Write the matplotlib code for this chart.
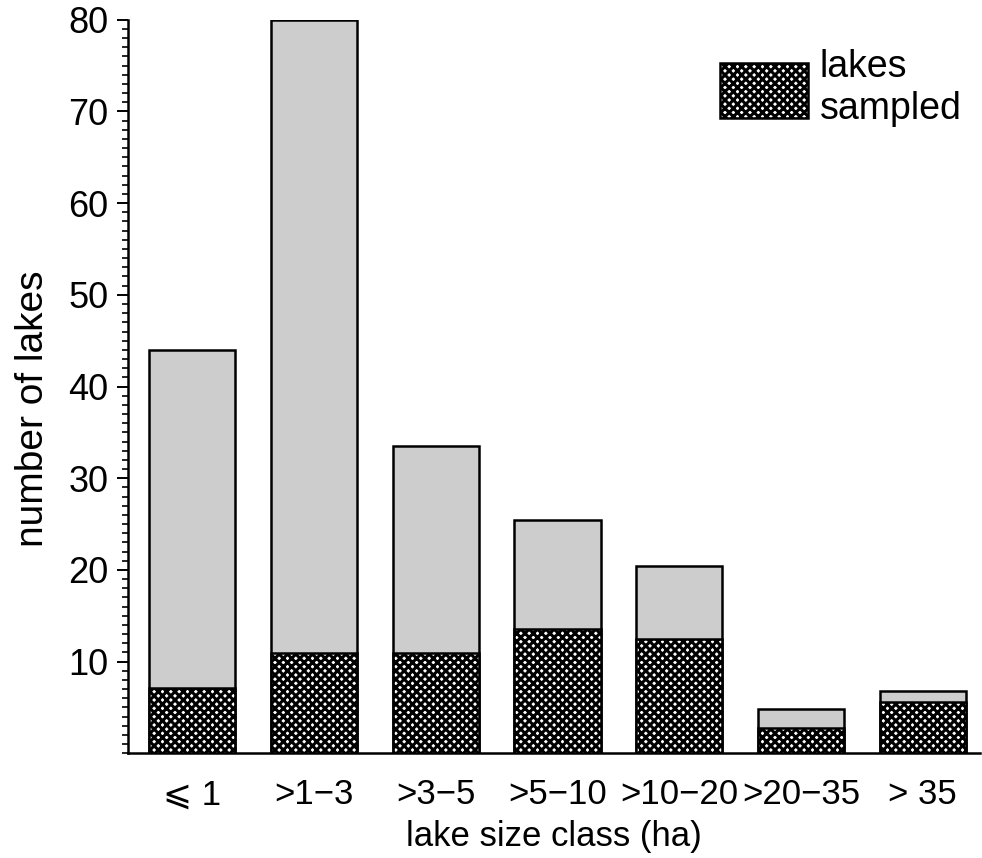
import numpy as np
import matplotlib.pyplot as plt
from matplotlib.patches import Patch
from matplotlib.ticker import MultipleLocator

# lake size classes, all lakes vs lakes sampled
classes = ["\u2a7d 1", ">1\u22123", ">3\u22125", ">5\u221210", ">10\u221220", ">20\u221235", "> 35"]
total_lakes = [44, 80, 33.5, 25.4, 20.4, 4.8, 6.8]
sampled_lakes = [7.1, 10.9, 10.9, 13.6, 12.5, 2.8, 5.6]
y_ticks = [10, 20, 30, 40, 50, 60, 70, 80]

plt.rcParams['font.family'] = ['Liberation Sans', 'DejaVu Sans']
plt.rcParams['hatch.linewidth'] = 2.2
plt.rcParams['hatch.color'] = 'black'

fig = plt.figure(figsize=(9.82, 8.58), dpi=100)
ax = fig.add_axes([0.130, 0.122, 0.868, 0.855])

x = np.arange(len(classes))
ax.bar(x, total_lakes, width=0.71, color='#cdcdcd', edgecolor='black', linewidth=1.8, zorder=2)
ax.bar(x, sampled_lakes, width=0.71, facecolor='white', edgecolor='black',
       hatch='xxxx', linewidth=1.8, zorder=3)

ax.set_xlim(-0.53, 6.47)
ax.set_ylim(0, 80)

ax.spines['top'].set_visible(False)
ax.spines['right'].set_visible(False)
ax.spines['left'].set_linewidth(1.8)
ax.spines['bottom'].set_linewidth(1.8)

ax.set_yticks(y_ticks)
ax.yaxis.set_minor_locator(MultipleLocator(1))
ax.tick_params(axis='y', which='major', direction='out', length=8, width=1.4,
               labelsize=26, pad=6)
ax.tick_params(axis='y', which='minor', direction='out', length=4, width=1.2)

ax.set_xticks(x)
ax.set_xticklabels(classes)
ax.tick_params(axis='x', length=0, labelsize=25, pad=18)

ax.set_xlabel("lake size class (ha)", fontsize=25, labelpad=6)
ax.set_ylabel("number of lakes", fontsize=28, labelpad=12, y=0.47)

handle = Patch(facecolor='white', edgecolor='black', hatch='xxxx', linewidth=1.8)
ax.legend(handles=[handle], labels=["lakes\nsampled"], loc='upper right',
          bbox_to_anchor=(1.0, 0.985), frameon=False, fontsize=27,
          handlelength=2.35, handleheight=1.9, handletextpad=0.3, borderaxespad=0.1,
          labelspacing=0.1)

fig.savefig("out.png", dpi=100)
